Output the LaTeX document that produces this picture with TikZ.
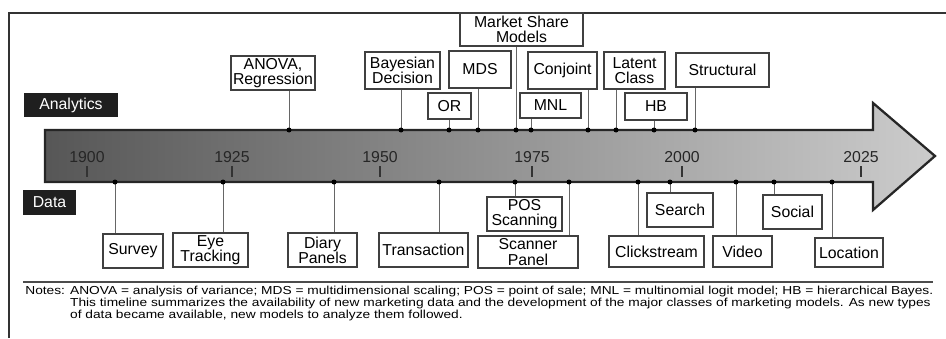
\documentclass[tikz,border=0pt]{standalone}
\usepackage{fontspec}
\setmainfont{Liberation Sans}
\newfontfamily\notefont[FakeStretch=1.185]{Liberation Sans}
\usetikzlibrary{calc}

\begin{document}
\begin{tikzpicture}[
  x=0.02cm, y=-0.02cm,
  every node/.style={font=\fontsize{9}{8.6}\selectfont},
  box/.style={draw=black!75, line width=0.6pt, fill=white, align=center, inner sep=1pt},
  tag/.style={fill=black!88, text=white, inner sep=1pt},
  link/.style={draw=black!60, line width=0.55pt},
  dot/.style={circle, fill=black, inner sep=0pt, minimum size=0.1cm},
  year/.style={text=black!85}
]
  \useasboundingbox (0,0) rectangle (946,338);

  % frame
  \draw[black!80, line width=0.8pt] (9,338) -- (9,13) -- (946,13);
  \draw[black!70, line width=1.1pt] (23,282) -- (933,282);

  % timeline arrow
  \shade[left color=black!66, right color=black!20, draw=black!85, line width=1.3pt]
    (45,130) -- (873,130) -- (873,103) -- (935,156) -- (873,210) -- (873,182) -- (45,182) -- cycle;

  \foreach \yr/\px in {1900/87, 1925/232, 1950/380, 1975/532, 2000/682, 2025/861} {
    \node[year] (y\yr) at (\px,157) {\yr};
    \draw[black!80, line width=0.7pt] (\px,166) -- (\px,177);
  }

  \node[tag, minimum width=1.88cm, minimum height=0.48cm] (analytics) at (71,105) {Analytics};
  \node[tag, minimum width=1.06cm, minimum height=0.5cm] (data) at (49.5,202.5) {Data};

  % analytics (models)
  \node[box, minimum width=1.68cm, minimum height=0.68cm] (anova) at (273,73) {ANOVA,\\Regression};
  \node[box, minimum width=1.5cm, minimum height=0.74cm] (bayes) at (402.5,70.5) {Bayesian\\Decision};
  \node[box, minimum width=0.86cm, minimum height=0.52cm] (or) at (449.5,106) {OR};
  \node[box, minimum width=1.24cm, minimum height=0.74cm] (mds) at (480,69.5) {MDS};
  \node[box, minimum width=2.46cm, minimum height=0.66cm] (share) at (521.5,29.5) {Market Share\\Models};
  \node[box, minimum width=1.22cm, minimum height=0.5cm] (mnl) at (550.5,105.5) {MNL};
  \node[box, minimum width=1.38cm, minimum height=0.74cm] (conjoint) at (562.5,70.5) {Conjoint};
  \node[box, minimum width=1.22cm, minimum height=0.74cm] (latent) at (634.5,70.5) {Latent\\Class};
  \node[box, minimum width=1.24cm, minimum height=0.54cm] (hb) at (656,106.5) {HB};
  \node[box, minimum width=1.86cm, minimum height=0.68cm] (struct) at (722.5,70) {Structural};

  \foreach \nd/\px in {anova/289, bayes/401, or/449, mds/478, share/516, mnl/531, conjoint/588, latent/616, hb/654, struct/695} {
    \coordinate (m-\nd) at (\px,130);
    \draw[link] (m-\nd) -- (m-\nd |- \nd.south);
    \node[dot] at (m-\nd) {};
  }

  % data sources
  \node[box, minimum width=1.2cm, minimum height=0.68cm] (survey) at (133,251) {Survey};
  \node[box, minimum width=1.5cm, minimum height=0.68cm] (eye) at (210.5,250) {Eye\\Tracking};
  \node[box, minimum width=1.38cm, minimum height=0.68cm] (diary) at (322.5,250) {Diary\\Panels};
  \node[box, minimum width=1.78cm, minimum height=0.68cm] (trans) at (423.5,250) {Transaction};
  \node[box, minimum width=1.5cm, minimum height=0.68cm] (pos) at (524.5,214) {POS\\Scanning};
  \node[box, minimum width=2cm, minimum height=0.64cm] (scanner) at (528,252) {Scanner\\Panel};
  \node[box, minimum width=1.9cm, minimum height=0.62cm] (click) at (656.5,251.5) {Clickstream};
  \node[box, minimum width=1.32cm, minimum height=0.68cm] (search) at (680,210) {Search};
  \node[box, minimum width=1.18cm, minimum height=0.62cm] (video) at (742.5,251.5) {Video};
  \node[box, minimum width=1.18cm, minimum height=0.68cm] (social) at (792.5,212) {Social};
  \node[box, minimum width=1.36cm, minimum height=0.58cm] (location) at (849,252.5) {Location};

  \foreach \nd/\px in {survey/115, eye/223, diary/334, trans/439, pos/515, scanner/569, click/638, search/670, video/736, social/774, location/832} {
    \coordinate (d-\nd) at (\px,182);
    \draw[link] (d-\nd) -- (d-\nd |- \nd.north);
    \node[dot] at (d-\nd) {};
  }

  % notes
  \node[anchor=north west, inner sep=0pt, font=\notefont\fontsize{6.6}{6.2}\selectfont] (notes) at (25,286)
    {\begin{tabular}{@{}l@{ }l@{}}
     Notes: & ANOVA = analysis of variance; MDS = multidimensional scaling; POS = point of sale; MNL = multinomial logit model; HB = hierarchical Bayes.\\
     & This timeline summarizes the availability of new marketing data and the development of the major classes of marketing models. As new types\\
     & of data became available, new models to analyze them followed.
     \end{tabular}};
\end{tikzpicture}
\end{document}
